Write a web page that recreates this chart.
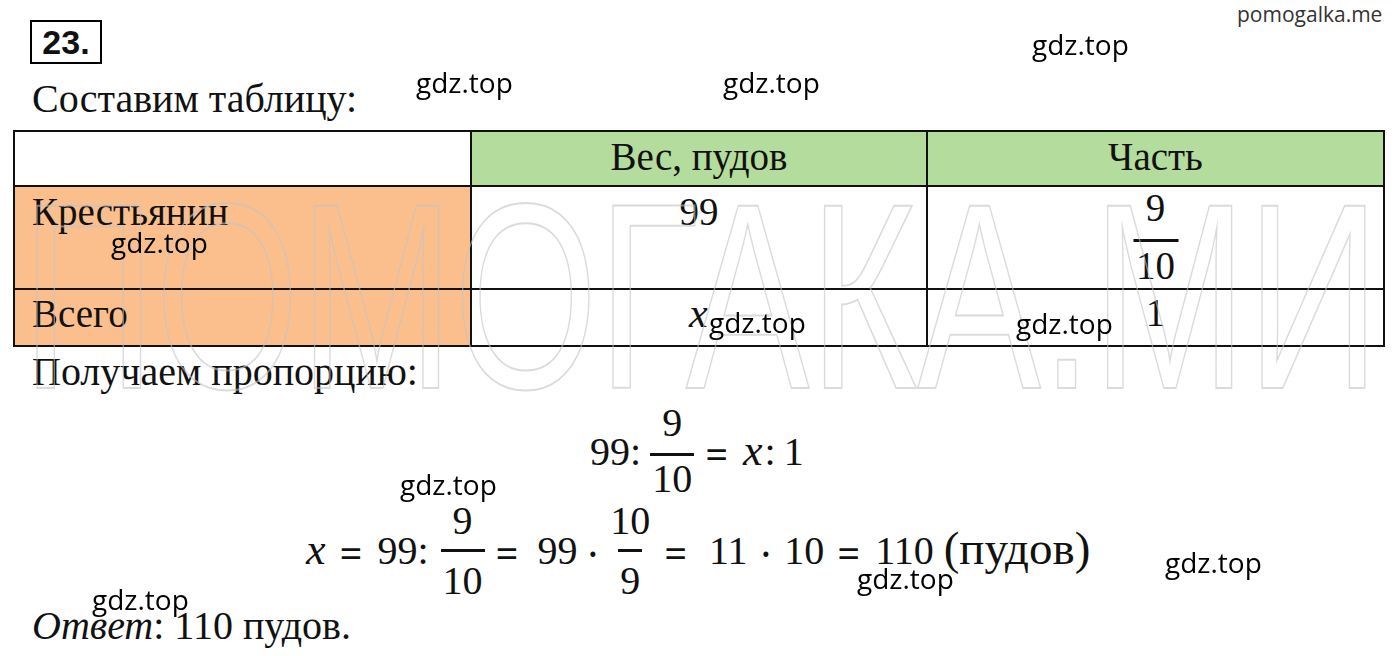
<!DOCTYPE html>
<html><head><meta charset="utf-8">
<script src="https://cdn.jsdelivr.net/npm/chart.js@4.4.1/dist/chart.umd.min.js"></script>
<style>
html,body{margin:0;padding:0;background:#fff;}
body{width:1400px;height:656px;position:relative;overflow:hidden;font-family:"Liberation Serif",serif;color:#111;}
.abs{position:absolute;white-space:nowrap;}
.serif{font-family:"Liberation Serif",serif;font-size:40px;line-height:1;}
.wm{font-family:"Open Sans",sans-serif;font-size:28px;color:#000;line-height:1;}
#num{left:30px;top:20px;width:68px;height:40px;border:2px solid #000;font-family:"Liberation Sans",sans-serif;font-weight:bold;font-size:34px;line-height:41px;text-align:center;}
.cell{position:absolute;box-sizing:border-box;border:2px solid #111;}
.ctext{position:absolute;font-family:"Liberation Serif",serif;font-size:39px;line-height:1;white-space:nowrap;}
.math{font-family:"Liberation Serif",serif;font-size:40px;line-height:1;display:flex;align-items:flex-start;}
.math > span{line-height:1;}
.frac{display:inline-flex;flex-direction:column;align-items:center;}
.frac .n{line-height:1;padding:0 2px;}
.frac .d{line-height:1;padding:0 2px;border-top:3px solid #111;}
.ix{font-family:"Liberation Serif",serif;font-style:italic;font-size:44px;margin-top:-3px;}
.eq{font-family:"Noto Sans",sans-serif;margin-top:2px;}
#wmcanvas{position:absolute;left:0;top:0;pointer-events:none;}
</style></head>
<body>
<div class="abs" id="num">23.</div>
<div class="abs serif" style="left:32px;top:79px;">Составим таблицу:</div>
<div id="tbl"></div>
<div class="abs serif" style="left:32px;top:352px;">Получаем пропорцию:</div>

<div class="abs math" id="eq1" style="left:590px;top:432px;"></div>
<div class="abs math" id="eq2" style="left:306px;top:531px;"></div>

<div class="abs serif" style="left:32px;top:606px;"><i>Ответ</i>: 110 пудов.</div>

<div class="abs" style="left:1237px;top:0px;font-family:'Open Sans',sans-serif;font-size:21px;color:#333;">pomogalka.me</div>
<canvas id="wmcanvas" width="1400" height="656"></canvas>
<div id="gdz"></div>

<script>
// ---- content data ----
const headers = ["", "Вес, пудов", "Часть"];
const rowLabels = ["Крестьянин", "Всего"];
const weights = ["99", "x"];
const partsNum = ["9", "1"];
const partsDen = ["10", ""];
const colEdges = [14, 471, 927, 1384];
const rowEdges = [131, 186, 289, 346];
const watermarkText = "ПОМОГАКА.МИ";
const gdzX = [1032, 416, 723, 111, 709, 1016, 400, 1165, 857, 92];
const gdzY = [30, 68, 68, 228, 308, 309, 470, 548, 564, 585];

// ---- table ----
const tb = document.getElementById('tbl');
function cell(c, r, bg){
  const d = document.createElement('div'); d.className='cell';
  d.style.left = (colEdges[c]-1)+'px'; d.style.top=(rowEdges[r]-1)+'px';
  d.style.width = (colEdges[c+1]-colEdges[c]+2)+'px'; d.style.height=(rowEdges[r+1]-rowEdges[r]+2)+'px';
  d.style.background = bg; tb.appendChild(d);
}
function text(html, x, top, center, extra){
  const d = document.createElement('div'); d.className='ctext';
  d.innerHTML = html; d.style.top = top+'px';
  d.style.left = x+'px';
  if (center) d.style.transform='translateX(-50%)';
  if (extra) d.setAttribute('style', d.getAttribute('style')+';'+extra);
  tb.appendChild(d); return d;
}
headers.forEach((h,i)=>{ cell(i,0, i===0?'#fff':'#b4dc9c'); });
rowLabels.forEach((l,r)=>{ cell(0,r+1,'#fbbf8e'); cell(1,r+1,'#fff'); cell(2,r+1,'#fff'); });
const baseTop = [137, 192, 294];
headers.forEach((h,i)=>{ if(h) text(h, (colEdges[i]+colEdges[i+1])/2, baseTop[0], true); });
rowLabels.forEach((l,r)=>{
  text(l, 32, baseTop[r+1], false);
  const cx1 = (colEdges[1]+colEdges[2])/2, cx2 = (colEdges[2]+colEdges[3])/2;
  if (weights[r]==='x') text(weights[r], 689, baseTop[r+1]-2, false, 'font-style:italic;font-size:42px');
  else text(weights[r], cx1, baseTop[r+1], true);
  if (partsDen[r]) {
    text(partsNum[r], cx2, baseTop[r+1]-4, true);
    text('<div style="width:45px;border-top:3px solid #111"></div>', cx2, 239, true);
    text(partsDen[r], cx2, 246, true);
  } else text(partsNum[r], cx2, baseTop[r+1]-1, true);
});

// ---- equations ----
function frac(n,d,pn,pd,mt){
  return '<span class="frac" style="margin-top:'+mt+'px"><span class="n" style="padding-bottom:'+pn+'px">'+n+
         '</span><span class="d" style="padding-top:'+pd+'px">'+d+'</span></span>';
}
function op(s,l,r){return '<span class="eq" style="margin-left:'+l+'px;margin-right:'+r+'px">'+s+'</span>';}
document.getElementById('eq1').innerHTML =
  '<span>99:</span><span style="width:9px"></span>'+frac('9','10',10,3,-29)+op('=',11,15)+
  '<span class="ix">x</span><span style="margin-left:2px">:</span><span style="margin-left:8px">1</span>';
document.getElementById('eq2').innerHTML =
  '<span class="ix">x</span>'+op('=',14,15)+'<span>99:</span><span style="width:12px"></span>'+frac('9','10',8,9,-30)+
  op('=',11,19)+'<span>99</span>'+op('·',10,10)+frac('10','9',8,9,-30)+op('=',12,22)+'<span>11</span>'+op('·',13,13)+
  '<span>10</span>'+op('=',13,15)+'<span>110</span><span style="font-size:47px;margin-top:-6px;margin-left:10px">(пудов)</span>';

// ---- gdz.top marks ----
const g = document.getElementById('gdz');
gdzX.forEach((x,i)=>{
  const d=document.createElement('div'); d.className='abs wm'; d.style.left=x+'px'; d.style.top=gdzY[i]+'px';
  d.textContent='gdz.top'; g.appendChild(d);
});

// ---- big outlined watermark ----
const cv = document.getElementById('wmcanvas');
const ctx = cv.getContext('2d');
ctx.font = '265px "Liberation Sans"';
const w = ctx.measureText(watermarkText).width;
ctx.save();
ctx.translate(22, 388);
ctx.scale(1358/w, 1);
ctx.lineWidth = 2;
ctx.strokeStyle = 'rgba(195,195,195,0.6)';
ctx.strokeText(watermarkText, 0, 0);
ctx.restore();
</script>
</body></html>
